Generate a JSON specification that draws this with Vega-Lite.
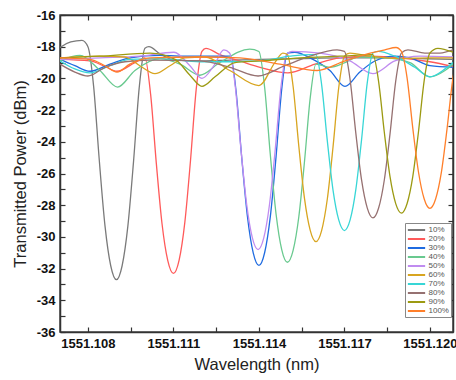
{
  "$schema": "https://vega.github.io/schema/vega-lite/v6.json",
  "width": 393,
  "height": 317,
  "autosize": {"type": "none"},
  "padding": {"left": 60, "top": 15, "right": 3, "bottom": 48},
  "background": "white",
  "config": {
    "view": {"stroke": "#444", "strokeWidth": 1.5},
    "font": "Liberation Sans",
    "axis": {"labelFont": "Liberation Sans", "labelFontWeight": "bold", "labelFontSize": 13, "labelColor": "#111", "titleFont": "Liberation Sans", "titleFontWeight": "normal", "titleFontSize": 16.5, "titleColor": "#222", "grid": false, "domainColor": "#333", "domainWidth": 1.5, "tickColor": "#333", "tickWidth": 1.2, "tickSize": -5}
  },
  "data": {"values": [
    {"series":"10%","wl":1551.10702,"dbm":-18.05},{"series":"10%","wl":1551.10740,"dbm":-17.70},{"series":"10%","wl":1551.10779,"dbm":-17.60},{"series":"10%","wl":1551.10800,"dbm":-18.00},{"series":"10%","wl":1551.10820,"dbm":-20.50},{"series":"10%","wl":1551.10840,"dbm":-25.20},{"series":"10%","wl":1551.10860,"dbm":-29.32},{"series":"10%","wl":1551.10880,"dbm":-31.82},{"series":"10%","wl":1551.10900,"dbm":-32.70},{"series":"10%","wl":1551.10920,"dbm":-31.82},{"series":"10%","wl":1551.10940,"dbm":-29.34},{"series":"10%","wl":1551.10960,"dbm":-25.25},{"series":"10%","wl":1551.10980,"dbm":-20.58},{"series":"10%","wl":1551.11000,"dbm":-18.10},{"series":"10%","wl":1551.11014,"dbm":-18.00},{"series":"10%","wl":1551.11053,"dbm":-18.45},{"series":"10%","wl":1551.11106,"dbm":-18.85},{"series":"10%","wl":1551.11193,"dbm":-18.90},{"series":"10%","wl":1551.11298,"dbm":-18.85},{"series":"10%","wl":1551.11404,"dbm":-18.80},{"series":"10%","wl":1551.11544,"dbm":-18.75},{"series":"10%","wl":1551.11684,"dbm":-18.70},{"series":"10%","wl":1551.11825,"dbm":-18.70},{"series":"10%","wl":1551.11965,"dbm":-18.75},{"series":"10%","wl":1551.12081,"dbm":-18.80},
    {"series":"20%","wl":1551.10702,"dbm":-18.80},{"series":"20%","wl":1551.10807,"dbm":-18.90},{"series":"20%","wl":1551.10860,"dbm":-19.25},{"series":"20%","wl":1551.10902,"dbm":-19.55},{"series":"20%","wl":1551.10965,"dbm":-19.00},{"series":"20%","wl":1551.11000,"dbm":-18.70},{"series":"20%","wl":1551.11020,"dbm":-21.01},{"series":"20%","wl":1551.11040,"dbm":-25.36},{"series":"20%","wl":1551.11060,"dbm":-29.17},{"series":"20%","wl":1551.11080,"dbm":-31.48},{"series":"20%","wl":1551.11100,"dbm":-32.30},{"series":"20%","wl":1551.11120,"dbm":-31.46},{"series":"20%","wl":1551.11140,"dbm":-29.08},{"series":"20%","wl":1551.11160,"dbm":-25.16},{"series":"20%","wl":1551.11180,"dbm":-20.68},{"series":"20%","wl":1551.11200,"dbm":-18.30},{"series":"20%","wl":1551.11214,"dbm":-18.10},{"series":"20%","wl":1551.11263,"dbm":-18.50},{"series":"20%","wl":1551.11333,"dbm":-18.90},{"series":"20%","wl":1551.11404,"dbm":-19.30},{"series":"20%","wl":1551.11502,"dbm":-19.65},{"series":"20%","wl":1551.11597,"dbm":-19.10},{"series":"20%","wl":1551.11684,"dbm":-18.70},{"series":"20%","wl":1551.11790,"dbm":-18.60},{"series":"20%","wl":1551.11895,"dbm":-18.70},{"series":"20%","wl":1551.12000,"dbm":-18.95},{"series":"20%","wl":1551.12081,"dbm":-19.25},
    {"series":"30%","wl":1551.10702,"dbm":-18.80},{"series":"30%","wl":1551.10754,"dbm":-19.20},{"series":"30%","wl":1551.10807,"dbm":-19.55},{"series":"30%","wl":1551.10877,"dbm":-19.10},{"series":"30%","wl":1551.10947,"dbm":-18.70},{"series":"30%","wl":1551.11053,"dbm":-18.55},{"series":"30%","wl":1551.11158,"dbm":-18.60},{"series":"30%","wl":1551.11246,"dbm":-18.60},{"series":"30%","wl":1551.11300,"dbm":-18.60},{"series":"30%","wl":1551.11320,"dbm":-20.84},{"series":"30%","wl":1551.11340,"dbm":-25.07},{"series":"30%","wl":1551.11360,"dbm":-28.76},{"series":"30%","wl":1551.11380,"dbm":-31.01},{"series":"30%","wl":1551.11400,"dbm":-31.80},{"series":"30%","wl":1551.11420,"dbm":-31.00},{"series":"30%","wl":1551.11440,"dbm":-28.72},{"series":"30%","wl":1551.11460,"dbm":-24.97},{"series":"30%","wl":1551.11480,"dbm":-20.68},{"series":"30%","wl":1551.11500,"dbm":-18.40},{"series":"30%","wl":1551.11526,"dbm":-18.35},{"series":"30%","wl":1551.11579,"dbm":-18.70},{"series":"30%","wl":1551.11649,"dbm":-19.50},{"series":"30%","wl":1551.11702,"dbm":-20.50},{"series":"30%","wl":1551.11754,"dbm":-19.60},{"series":"30%","wl":1551.11807,"dbm":-18.90},{"series":"30%","wl":1551.11877,"dbm":-18.60},{"series":"30%","wl":1551.11930,"dbm":-18.70},{"series":"30%","wl":1551.12000,"dbm":-19.20},{"series":"30%","wl":1551.12081,"dbm":-19.30},
    {"series":"40%","wl":1551.10702,"dbm":-18.90},{"series":"40%","wl":1551.10772,"dbm":-18.55},{"series":"40%","wl":1551.10842,"dbm":-19.50},{"series":"40%","wl":1551.10904,"dbm":-20.55},{"series":"40%","wl":1551.10965,"dbm":-19.50},{"series":"40%","wl":1551.11053,"dbm":-18.75},{"series":"40%","wl":1551.11123,"dbm":-19.10},{"series":"40%","wl":1551.11193,"dbm":-19.80},{"series":"40%","wl":1551.11263,"dbm":-19.00},{"series":"40%","wl":1551.11368,"dbm":-18.15},{"series":"40%","wl":1551.11400,"dbm":-18.30},{"series":"40%","wl":1551.11420,"dbm":-20.56},{"series":"40%","wl":1551.11440,"dbm":-24.82},{"series":"40%","wl":1551.11460,"dbm":-28.54},{"series":"40%","wl":1551.11480,"dbm":-30.80},{"series":"40%","wl":1551.11500,"dbm":-31.60},{"series":"40%","wl":1551.11520,"dbm":-30.85},{"series":"40%","wl":1551.11540,"dbm":-28.73},{"series":"40%","wl":1551.11560,"dbm":-25.23},{"series":"40%","wl":1551.11580,"dbm":-21.23},{"series":"40%","wl":1551.11600,"dbm":-19.10},{"series":"40%","wl":1551.11649,"dbm":-19.30},{"series":"40%","wl":1551.11702,"dbm":-19.00},{"series":"40%","wl":1551.11747,"dbm":-18.65},{"series":"40%","wl":1551.11842,"dbm":-18.70},{"series":"40%","wl":1551.11930,"dbm":-19.00},{"series":"40%","wl":1551.12000,"dbm":-19.90},{"series":"40%","wl":1551.12053,"dbm":-19.50},{"series":"40%","wl":1551.12081,"dbm":-19.10},
    {"series":"50%","wl":1551.10702,"dbm":-18.80},{"series":"50%","wl":1551.10842,"dbm":-18.70},{"series":"50%","wl":1551.10982,"dbm":-18.60},{"series":"50%","wl":1551.11102,"dbm":-18.35},{"series":"50%","wl":1551.11158,"dbm":-19.20},{"series":"50%","wl":1551.11200,"dbm":-20.00},{"series":"50%","wl":1551.11242,"dbm":-19.20},{"series":"50%","wl":1551.11277,"dbm":-18.20},{"series":"50%","wl":1551.11297,"dbm":-18.40},{"series":"50%","wl":1551.11317,"dbm":-20.51},{"series":"50%","wl":1551.11337,"dbm":-24.48},{"series":"50%","wl":1551.11357,"dbm":-27.95},{"series":"50%","wl":1551.11377,"dbm":-30.06},{"series":"50%","wl":1551.11397,"dbm":-30.80},{"series":"50%","wl":1551.11417,"dbm":-30.06},{"series":"50%","wl":1551.11437,"dbm":-27.97},{"series":"50%","wl":1551.11457,"dbm":-24.53},{"series":"50%","wl":1551.11477,"dbm":-20.59},{"series":"50%","wl":1551.11497,"dbm":-18.50},{"series":"50%","wl":1551.11516,"dbm":-18.30},{"series":"50%","wl":1551.11614,"dbm":-18.40},{"series":"50%","wl":1551.11719,"dbm":-18.90},{"series":"50%","wl":1551.11800,"dbm":-19.70},{"series":"50%","wl":1551.11877,"dbm":-18.90},{"series":"50%","wl":1551.11965,"dbm":-18.60},{"series":"50%","wl":1551.12081,"dbm":-18.65},
    {"series":"60%","wl":1551.10702,"dbm":-18.70},{"series":"60%","wl":1551.10842,"dbm":-18.60},{"series":"60%","wl":1551.10930,"dbm":-18.65},{"series":"60%","wl":1551.10982,"dbm":-19.20},{"series":"60%","wl":1551.11035,"dbm":-19.70},{"series":"60%","wl":1551.11088,"dbm":-19.20},{"series":"60%","wl":1551.11140,"dbm":-18.70},{"series":"60%","wl":1551.11211,"dbm":-18.65},{"series":"60%","wl":1551.11298,"dbm":-19.50},{"series":"60%","wl":1551.11400,"dbm":-20.45},{"series":"60%","wl":1551.11456,"dbm":-19.00},{"series":"60%","wl":1551.11484,"dbm":-18.40},{"series":"60%","wl":1551.11500,"dbm":-18.50},{"series":"60%","wl":1551.11520,"dbm":-20.51},{"series":"60%","wl":1551.11540,"dbm":-24.28},{"series":"60%","wl":1551.11560,"dbm":-27.59},{"series":"60%","wl":1551.11580,"dbm":-29.59},{"series":"60%","wl":1551.11600,"dbm":-30.30},{"series":"60%","wl":1551.11620,"dbm":-29.60},{"series":"60%","wl":1551.11640,"dbm":-27.61},{"series":"60%","wl":1551.11660,"dbm":-24.33},{"series":"60%","wl":1551.11680,"dbm":-20.59},{"series":"60%","wl":1551.11700,"dbm":-18.60},{"series":"60%","wl":1551.11719,"dbm":-18.40},{"series":"60%","wl":1551.11790,"dbm":-18.60},{"series":"60%","wl":1551.11895,"dbm":-18.75},{"series":"60%","wl":1551.12000,"dbm":-18.70},{"series":"60%","wl":1551.12081,"dbm":-18.70},
    {"series":"70%","wl":1551.10702,"dbm":-18.90},{"series":"70%","wl":1551.10754,"dbm":-19.40},{"series":"70%","wl":1551.10807,"dbm":-19.65},{"series":"70%","wl":1551.10877,"dbm":-19.20},{"series":"70%","wl":1551.10947,"dbm":-18.80},{"series":"70%","wl":1551.11053,"dbm":-18.75},{"series":"70%","wl":1551.11193,"dbm":-18.95},{"series":"70%","wl":1551.11298,"dbm":-18.95},{"series":"70%","wl":1551.11404,"dbm":-18.90},{"series":"70%","wl":1551.11509,"dbm":-18.60},{"series":"70%","wl":1551.11579,"dbm":-18.50},{"series":"70%","wl":1551.11600,"dbm":-18.50},{"series":"70%","wl":1551.11620,"dbm":-20.39},{"series":"70%","wl":1551.11640,"dbm":-23.94},{"series":"70%","wl":1551.11660,"dbm":-27.05},{"series":"70%","wl":1551.11680,"dbm":-28.93},{"series":"70%","wl":1551.11700,"dbm":-29.60},{"series":"70%","wl":1551.11720,"dbm":-28.93},{"series":"70%","wl":1551.11740,"dbm":-27.02},{"series":"70%","wl":1551.11760,"dbm":-23.89},{"series":"70%","wl":1551.11780,"dbm":-20.30},{"series":"70%","wl":1551.11800,"dbm":-18.40},{"series":"70%","wl":1551.11818,"dbm":-18.30},{"series":"70%","wl":1551.11877,"dbm":-18.60},{"series":"70%","wl":1551.11947,"dbm":-19.30},{"series":"70%","wl":1551.12000,"dbm":-19.90},{"series":"70%","wl":1551.12053,"dbm":-19.40},{"series":"70%","wl":1551.12081,"dbm":-19.00},
    {"series":"80%","wl":1551.10702,"dbm":-19.10},{"series":"80%","wl":1551.10754,"dbm":-19.60},{"series":"80%","wl":1551.10800,"dbm":-19.85},{"series":"80%","wl":1551.10860,"dbm":-19.30},{"series":"80%","wl":1551.10930,"dbm":-18.95},{"series":"80%","wl":1551.11018,"dbm":-18.85},{"series":"80%","wl":1551.11193,"dbm":-18.90},{"series":"80%","wl":1551.11298,"dbm":-19.30},{"series":"80%","wl":1551.11397,"dbm":-19.85},{"series":"80%","wl":1551.11491,"dbm":-19.20},{"series":"80%","wl":1551.11579,"dbm":-18.60},{"series":"80%","wl":1551.11674,"dbm":-18.20},{"series":"80%","wl":1551.11700,"dbm":-18.30},{"series":"80%","wl":1551.11720,"dbm":-20.09},{"series":"80%","wl":1551.11740,"dbm":-23.45},{"series":"80%","wl":1551.11760,"dbm":-26.39},{"series":"80%","wl":1551.11780,"dbm":-28.17},{"series":"80%","wl":1551.11800,"dbm":-28.80},{"series":"80%","wl":1551.11820,"dbm":-28.18},{"series":"80%","wl":1551.11840,"dbm":-26.41},{"series":"80%","wl":1551.11860,"dbm":-23.50},{"series":"80%","wl":1551.11880,"dbm":-20.17},{"series":"80%","wl":1551.11900,"dbm":-18.40},{"series":"80%","wl":1551.11923,"dbm":-18.20},{"series":"80%","wl":1551.11982,"dbm":-18.40},{"series":"80%","wl":1551.12035,"dbm":-18.40},{"series":"80%","wl":1551.12081,"dbm":-18.20},
    {"series":"90%","wl":1551.10702,"dbm":-18.70},{"series":"90%","wl":1551.10842,"dbm":-18.60},{"series":"90%","wl":1551.11018,"dbm":-18.40},{"series":"90%","wl":1551.11106,"dbm":-18.80},{"series":"90%","wl":1551.11158,"dbm":-19.80},{"series":"90%","wl":1551.11200,"dbm":-20.50},{"series":"90%","wl":1551.11246,"dbm":-19.90},{"series":"90%","wl":1551.11316,"dbm":-19.00},{"series":"90%","wl":1551.11404,"dbm":-18.90},{"series":"90%","wl":1551.11544,"dbm":-18.70},{"series":"90%","wl":1551.11684,"dbm":-18.60},{"series":"90%","wl":1551.11800,"dbm":-18.50},{"series":"90%","wl":1551.11820,"dbm":-20.20},{"series":"90%","wl":1551.11840,"dbm":-23.40},{"series":"90%","wl":1551.11860,"dbm":-26.20},{"series":"90%","wl":1551.11880,"dbm":-27.90},{"series":"90%","wl":1551.11900,"dbm":-28.50},{"series":"90%","wl":1551.11920,"dbm":-27.89},{"series":"90%","wl":1551.11940,"dbm":-26.18},{"series":"90%","wl":1551.11960,"dbm":-23.35},{"series":"90%","wl":1551.11980,"dbm":-20.12},{"series":"90%","wl":1551.12000,"dbm":-18.40},{"series":"90%","wl":1551.12028,"dbm":-18.10},{"series":"90%","wl":1551.12081,"dbm":-18.35},
    {"series":"100%","wl":1551.10702,"dbm":-18.70},{"series":"100%","wl":1551.10807,"dbm":-18.80},{"series":"100%","wl":1551.10860,"dbm":-19.20},{"series":"100%","wl":1551.10902,"dbm":-19.60},{"series":"100%","wl":1551.10947,"dbm":-19.10},{"series":"100%","wl":1551.11018,"dbm":-18.70},{"series":"100%","wl":1551.11193,"dbm":-18.65},{"series":"100%","wl":1551.11333,"dbm":-18.70},{"series":"100%","wl":1551.11474,"dbm":-19.10},{"series":"100%","wl":1551.11604,"dbm":-19.50},{"series":"100%","wl":1551.11702,"dbm":-18.90},{"series":"100%","wl":1551.11772,"dbm":-18.50},{"series":"100%","wl":1551.11842,"dbm":-18.20},{"series":"100%","wl":1551.11881,"dbm":-18.05},{"series":"100%","wl":1551.11900,"dbm":-18.30},{"series":"100%","wl":1551.11920,"dbm":-19.98},{"series":"100%","wl":1551.11940,"dbm":-23.15},{"series":"100%","wl":1551.11960,"dbm":-25.92},{"series":"100%","wl":1551.11980,"dbm":-27.61},{"series":"100%","wl":1551.12000,"dbm":-28.20},{"series":"100%","wl":1551.12020,"dbm":-27.61},{"series":"100%","wl":1551.12040,"dbm":-25.95},{"series":"100%","wl":1551.12060,"dbm":-23.20},{"series":"100%","wl":1551.12080,"dbm":-20.07},{"series":"100%","wl":1551.12100,"dbm":-18.40}
  ]},
  "layer": [
    {
      "mark": {"type": "line", "interpolate": "monotone", "strokeWidth": 1.3, "clip": true},
      "encoding": {
        "x": {"field": "wl", "type": "quantitative", "title": "Wavelength (nm)",
          "scale": {"domain": [1551.10702, 1551.12081], "nice": false, "zero": false},
          "axis": {"values": [1551.108, 1551.1095, 1551.111, 1551.1125, 1551.114, 1551.1155, 1551.117, 1551.1185, 1551.120],
            "labelExpr": "abs(datum.value*1000 - round(datum.value*1000)) < 0.01 ? format(datum.value, '.3f') : ''",
            "labelPadding": 10, "titlePadding": 6}},
        "y": {"field": "dbm", "type": "quantitative", "title": "Transmitted Power (dBm)",
          "scale": {"domain": [-36, -16], "nice": false, "zero": false},
          "axis": {"values": [-36,-35,-34,-33,-32,-31,-30,-29,-28,-27,-26,-25,-24,-23,-22,-21,-20,-19,-18,-17,-16],
            "labelExpr": "datum.value % 2 == 0 ? toString(datum.value) : ''",
            "labelPadding": 10, "titlePadding": 8}},
        "color": {"field": "series", "type": "nominal",
          "scale": {"domain": ["10%","20%","30%","40%","50%","60%","70%","80%","90%","100%"],
            "range": ["#7a7a7a","#ff5a5a","#1f6be0","#69c98f","#c08cf0","#d8a520","#38d6d6","#967171","#9c9a12","#ff7f2a"]},
          "legend": {"orient": "none", "legendX": 345, "legendY": 208, "title": null, "symbolType": "M-2.31,0H2.31", "symbolSize": 56, "symbolStrokeWidth": 2, "labelFontSize": 8, "labelFont": "Liberation Sans", "labelColor": "#555", "rowPadding": 0, "strokeColor": "#888", "fillColor": "white", "padding": 2, "labelOffset": 7, "symbolOffset": 4.5}}
      }
    },
    {
      "mark": {"type": "point", "opacity": 0},
      "encoding": {
        "x": {"field": "wl", "type": "quantitative",
          "axis": {"orient": "top", "values": [1551.108, 1551.1095, 1551.111, 1551.1125, 1551.114, 1551.1155, 1551.117, 1551.1185, 1551.120], "labels": false, "title": null}},
        "y": {"field": "dbm", "type": "quantitative",
          "axis": {"orient": "right", "values": [-36,-35,-34,-33,-32,-31,-30,-29,-28,-27,-26,-25,-24,-23,-22,-21,-20,-19,-18,-17,-16], "labels": false, "title": null}}
      }
    }
  ],
  "resolve": {"axis": {"x": "independent", "y": "independent"}}
}
